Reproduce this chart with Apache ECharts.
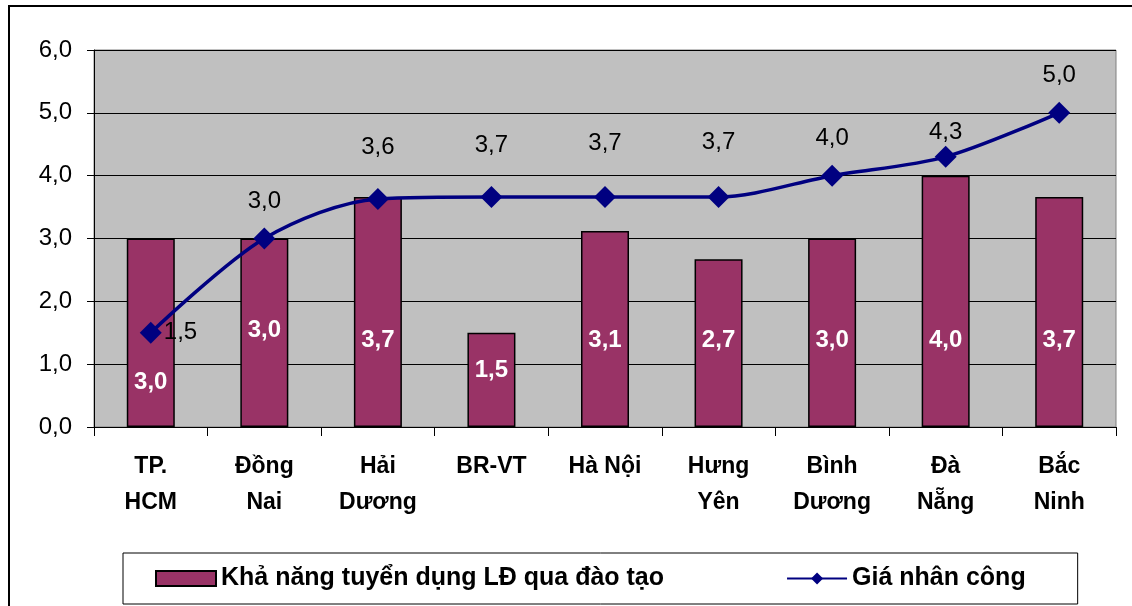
<!DOCTYPE html>
<html>
<head>
<meta charset="utf-8">
<script src="https://cdn.jsdelivr.net/npm/echarts@6/dist/echarts.min.js"></script>
<style>
  html, body { margin: 0; padding: 0; background: #fff; }
  #chart { width: 1132px; height: 606px; }
</style>
</head>
<body>
<div id="chart"></div>
<script>
// data
var categories = ['TP.\nHCM', 'Đồng\nNai', 'Hải\nDương', 'BR-VT', 'Hà Nội', 'Hưng\nYên', 'Bình\nDương', 'Đà\nNẵng', 'Bắc\nNinh'];
var tuyenDung = [3.0, 3.0, 3.66, 1.5, 3.12, 2.67, 3.0, 4.0, 3.66];
var giaNhanCong = [1.5, 3.0, 3.63, 3.66, 3.66, 3.66, 4.0, 4.3, 5.0];
var yTicks = [0, 1, 2, 3, 4, 5, 6];

var seriesNames = ['Khả năng tuyển dụng LĐ qua đào tạo', 'Giá nhân công'];
var font = 'Liberation Sans, Arial, sans-serif';

function fmt(v) {
  return v.toFixed(1).replace('.', ',');
}

var myChart = echarts.init(document.getElementById('chart'));

// bar label offsets from the bar bottom, line label offsets above the marker
var barLabelDist = function (i) {
  if (i === 0) return 33;
  if (i === 1) return 85;
  if (i === 3) return 45;
  return 75;
};
var lineLabelDist = [0, 14, 29, 29, 31, 32, 14, 1, 14];

var barData = tuyenDung.map(function (v, i) {
  return {
    value: v,
    label: { distance: barLabelDist(i) }
  };
});

var lineData = giaNhanCong.map(function (v, i) {
  if (i === 0) {
    return { value: v, label: { position: 'right', distance: 2 } };
  }
  return { value: v, label: { distance: lineLabelDist[i] } };
});

var option = {
  animation: false,
  textStyle: { fontFamily: font },
  graphic: [{
    type: 'rect',
    shape: { x: 9, y: 6, width: 1200, height: 700 },
    style: { fill: 'none', stroke: '#000', lineWidth: 2 },
    silent: true
  }],
  grid: {
    left: 94,
    right: 16,
    top: 50,
    bottom: 179,
    show: true,
    backgroundColor: '#C0C0C0',
    borderColor: '#808080',
    borderWidth: 1
  },
  legend: {
    left: 123,
    top: 553,
    padding: [13, 52, 13, 32],
    borderColor: '#000',
    borderWidth: 1,
    itemGap: 122,
    itemWidth: 60,
    itemHeight: 15,
    textStyle: { fontSize: 25, fontWeight: 'bold', color: '#000', fontFamily: font },
    data: [
      { name: seriesNames[0], icon: 'rect' },
      { name: seriesNames[1] }
    ]
  },
  xAxis: {
    type: 'category',
    data: categories,
    axisLine: { lineStyle: { color: '#000', width: 1 } },
    axisTick: { show: true, length: 9, lineStyle: { color: '#000' } },
    axisLabel: {
      color: '#000',
      fontSize: 23,
      fontWeight: 'bold',
      lineHeight: 36,
      margin: 22,
      verticalAlign: 'top',
      fontFamily: font
    }
  },
  yAxis: {
    type: 'value',
    min: 0,
    max: 6,
    interval: 1,
    axisLine: { show: true, lineStyle: { color: '#000', width: 1 } },
    axisTick: { show: true, length: 7, lineStyle: { color: '#000' } },
    axisLabel: {
      color: '#000',
      fontSize: 24,
      margin: 22,
      fontFamily: font,
      formatter: function (v) { return yTicks.indexOf(v) >= 0 ? fmt(v) : ''; }
    },
    splitLine: { show: true, lineStyle: { color: '#000', width: 1 } }
  },
  series: [
    {
      name: seriesNames[0],
      type: 'bar',
      data: barData,
      barWidth: 48,
      itemStyle: { color: '#993366', borderColor: '#000', borderWidth: 1.5 },
      label: {
        show: true,
        position: 'insideBottom',
        color: '#fff',
        fontSize: 24,
        fontWeight: 'bold',
        fontFamily: font,
        formatter: function (p) { return fmt(p.value); }
      },
      z: 2
    },
    {
      name: seriesNames[1],
      type: 'line',
      data: lineData,
      smooth: 0.3,
      symbol: 'diamond',
      symbolSize: 22,
      lineStyle: { color: '#000080', width: 3.5 },
      itemStyle: { color: '#000080' },
      label: {
        show: true,
        position: 'top',
        color: '#000',
        fontSize: 24,
        fontFamily: font,
        formatter: function (p) { return fmt(p.value); }
      },
      z: 3
    }
  ]
};

option && myChart.setOption(option);
</script>
</body>
</html>
